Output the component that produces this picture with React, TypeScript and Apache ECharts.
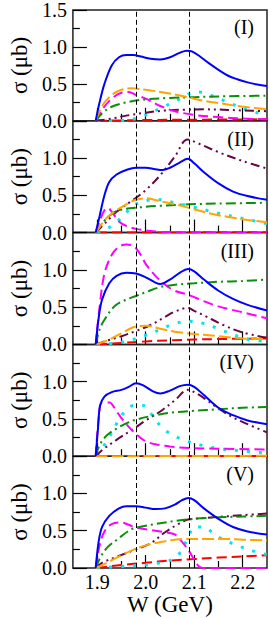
import React, { useEffect, useRef } from "react";
import * as echarts from "echarts";

// ---------- axis / annotation values ----------
const W_MIN = 1.85;
const W_MAX = 2.25;
const SIGMA_MAX = 1.5;
const xMajorTicks = [1.9, 2.0, 2.1, 2.2];
const xMinorTicks = [1.95, 2.05, 2.15];
const resonanceW = [1.98, 2.09];
const panelLabels = ["(I)", "(II)", "(III)", "(IV)", "(V)"];
const yAxisName = "σ (μb)";
const xAxisName = "W (GeV)";

// ---------- Panel I ----------
const p1Blue = [[1.897,0],[1.905,0.25],[1.915,0.5],[1.93,0.75],[1.945,0.86],[1.96,0.89],[1.975,0.89],[1.99,0.87],[2.01,0.84],[2.03,0.83],[2.05,0.86],[2.07,0.92],[2.085,0.95],[2.095,0.94],[2.11,0.88],[2.13,0.78],[2.15,0.69],[2.17,0.61],[2.19,0.56],[2.21,0.52],[2.23,0.49],[2.25,0.47]];
const p1Orange = [[1.897,0],[1.91,0.2],[1.93,0.35],[1.95,0.42],[1.97,0.44],[2.0,0.42],[2.04,0.38],[2.08,0.33],[2.12,0.27],[2.16,0.23],[2.2,0.19],[2.25,0.16]];
const p1Green = [[1.897,0],[1.91,0.1],[1.93,0.19],[1.96,0.25],[2.0,0.29],[2.05,0.31],[2.1,0.32],[2.15,0.33],[2.25,0.34]];
const p1Magenta = [[1.897,0],[1.91,0.15],[1.93,0.3],[1.95,0.38],[1.965,0.39],[1.98,0.35],[2.0,0.3],[2.03,0.2],[2.06,0.13],[2.1,0.08],[2.15,0.05],[2.2,0.03],[2.25,0.02]];
const p1Maroon = [[1.897,0],[1.93,0.03],[1.96,0.07],[2.0,0.11],[2.04,0.14],[2.08,0.15],[2.12,0.155],[2.16,0.15],[2.2,0.14],[2.25,0.13]];
const p1Cyan = [[1.9,0],[1.95,0.005],[1.98,0.03],[2.0,0.08],[2.03,0.17],[2.06,0.26],[2.08,0.33],[2.1,0.39],[2.12,0.38],[2.14,0.33],[2.17,0.25],[2.2,0.17],[2.25,0.07]];
const p1Red = [[1.9,0],[2.0,0.01],[2.1,0.015],[2.25,0.02]];

// ---------- Panel II ----------
const p2Blue = [[1.897,0],[1.905,0.22],[1.915,0.5],[1.925,0.68],[1.94,0.78],[1.96,0.84],[1.98,0.87],[2.0,0.87],[2.02,0.85],[2.035,0.84],[2.05,0.87],[2.07,0.94],[2.087,0.99],[2.1,0.93],[2.12,0.81],[2.15,0.66],[2.18,0.55],[2.21,0.49],[2.25,0.44]];
const p2Orange = [[1.897,0],[1.92,0.2],[1.94,0.3],[1.96,0.38],[1.98,0.44],[2.0,0.46],[2.03,0.42],[2.06,0.38],[2.09,0.33],[2.13,0.26],[2.17,0.21],[2.21,0.17],[2.25,0.14]];
const p2Green = [[1.897,0],[1.91,0.12],[1.926,0.23],[1.945,0.3],[1.99,0.34],[2.03,0.36],[2.09,0.38],[2.15,0.39],[2.25,0.4]];
const p2Magenta = [[1.897,0],[1.905,0.15],[1.915,0.3],[1.922,0.33],[1.93,0.28],[1.945,0.15],[1.96,0.09],[1.98,0.05],[2.0,0.03],[2.03,0.01],[2.1,0.005],[2.25,0]];
const p2Maroon = [[1.897,0],[1.92,0.15],[1.94,0.28],[1.97,0.42],[2.0,0.57],[2.03,0.77],[2.06,1.02],[2.086,1.25],[2.1,1.22],[2.15,1.08],[2.2,0.96],[2.25,0.86]];
const p2Cyan = [[1.9,0],[1.92,0.05],[1.94,0.14],[1.96,0.27],[1.98,0.38],[2.0,0.43],[2.03,0.44],[2.06,0.4],[2.1,0.34],[2.15,0.26],[2.2,0.19],[2.25,0.12]];
const p2Red = [[1.9,0],[2.25,0.005]];

// ---------- Panel III ----------
const p3Blue = [[1.897,0],[1.903,0.35],[1.91,0.6],[1.925,0.82],[1.94,0.92],[1.96,0.96],[1.98,0.95],[2.0,0.9],[2.02,0.83],[2.03,0.81],[2.05,0.87],[2.07,0.96],[2.087,1.01],[2.1,0.98],[2.12,0.87],[2.15,0.72],[2.18,0.61],[2.21,0.53],[2.25,0.455]];
const p3Orange = [[1.897,0],[1.92,0.05],[1.95,0.15],[1.98,0.24],[2.0,0.25],[2.03,0.21],[2.06,0.17],[2.1,0.14],[2.15,0.11],[2.2,0.08],[2.25,0.07]];
const p3Green = [[1.897,0],[1.905,0.2],[1.915,0.33],[1.937,0.52],[1.96,0.6],[1.98,0.65],[2.0,0.7],[2.03,0.77],[2.06,0.8],[2.1,0.82],[2.15,0.84],[2.2,0.85],[2.25,0.87]];
const p3Magenta = [[1.897,0],[1.905,0.5],[1.915,0.95],[1.93,1.2],[1.945,1.31],[1.96,1.34],[1.975,1.32],[1.99,1.2],[2.0,1.08],[2.02,0.92],[2.04,0.8],[2.06,0.72],[2.09,0.66],[2.12,0.58],[2.15,0.51],[2.2,0.43],[2.25,0.35]];
const p3Maroon = [[1.897,0],[1.92,0.05],[1.95,0.11],[1.98,0.18],[2.01,0.26],[2.04,0.37],[2.06,0.44],[2.087,0.49],[2.1,0.45],[2.12,0.39],[2.16,0.26],[2.2,0.16],[2.25,0.09]];
const p3Cyan = [[1.9,0],[1.94,0.02],[1.97,0.06],[2.0,0.12],[2.03,0.2],[2.06,0.28],[2.09,0.31],[2.12,0.28],[2.15,0.21],[2.18,0.13],[2.21,0.07],[2.25,0.04]];
const p3Red = [[1.9,0],[1.95,0.02],[2.0,0.04],[2.05,0.055],[2.1,0.065],[2.15,0.072],[2.25,0.08]];

// ---------- Panel IV ----------
const p4Blue = [[1.897,0],[1.902,0.4],[1.906,0.68],[1.915,0.8],[1.93,0.86],[1.95,0.89],[1.965,0.93],[1.98,0.98],[1.995,0.95],[2.015,0.87],[2.03,0.84],[2.05,0.88],[2.07,0.94],[2.087,0.96],[2.1,0.93],[2.12,0.82],[2.15,0.65],[2.18,0.55],[2.21,0.48],[2.25,0.43]];
const p4Orange = [[1.897,0],[2.25,0.005]];
const p4Green = [[1.897,0],[1.905,0.15],[1.92,0.28],[1.94,0.37],[1.96,0.44],[1.98,0.49],[2.02,0.55],[2.06,0.59],[2.1,0.61],[2.15,0.63],[2.2,0.65],[2.25,0.66]];
const p4Magenta = [[1.897,0],[1.903,0.5],[1.91,0.72],[1.925,0.72],[1.94,0.6],[1.955,0.47],[1.97,0.36],[1.985,0.27],[2.0,0.2],[2.02,0.16],[2.05,0.13],[2.09,0.11],[2.15,0.1],[2.25,0.09]];
const p4Maroon = [[1.897,0],[1.91,0.08],[1.94,0.22],[1.978,0.38],[2.0,0.48],[2.03,0.6],[2.06,0.75],[2.087,0.89],[2.1,0.86],[2.12,0.78],[2.15,0.64],[2.18,0.52],[2.21,0.43],[2.25,0.32]];
const p4Cyan = [[1.9,0],[1.91,0.1],[1.926,0.27],[1.945,0.49],[1.96,0.62],[1.975,0.68],[1.995,0.68],[2.01,0.58],[2.026,0.44],[2.046,0.32],[2.07,0.24],[2.09,0.19],[2.12,0.14],[2.15,0.1],[2.2,0.07],[2.25,0.04]];
const p4Red = [[1.9,0],[2.25,0]];

// ---------- Panel V ----------
const p5Blue = [[1.897,0],[1.903,0.35],[1.91,0.55],[1.925,0.7],[1.945,0.8],[1.96,0.83],[1.98,0.83],[2.0,0.81],[2.02,0.79],[2.04,0.8],[2.06,0.85],[2.075,0.91],[2.088,0.94],[2.1,0.91],[2.12,0.8],[2.15,0.66],[2.18,0.55],[2.21,0.49],[2.25,0.45]];
const p5Orange = [[1.897,0],[1.92,0.07],[1.95,0.17],[1.98,0.26],[2.01,0.32],[2.04,0.36],[2.08,0.39],[2.12,0.39],[2.16,0.39],[2.2,0.38],[2.25,0.37]];
const p5Green = [[1.897,0],[1.905,0.12],[1.92,0.27],[1.945,0.4],[1.965,0.5],[1.98,0.54],[2.02,0.59],[2.06,0.63],[2.1,0.66],[2.15,0.68],[2.2,0.69],[2.25,0.7]];
const p5Magenta = [[1.897,0],[1.905,0.3],[1.915,0.49],[1.93,0.59],[1.95,0.61],[1.965,0.58],[1.98,0.54],[2.0,0.52],[2.02,0.5],[2.04,0.48],[2.06,0.45],[2.075,0.35],[2.09,0.22],[2.1,0.11],[2.11,0.02],[2.12,0],[2.25,0]];
const p5Maroon = [[1.897,0],[1.91,0.07],[1.94,0.15],[1.98,0.25],[2.01,0.33],[2.04,0.48],[2.07,0.6],[2.087,0.65],[2.12,0.67],[2.16,0.69],[2.2,0.71],[2.25,0.73]];
const p5Cyan = [[1.9,0],[1.95,0.02],[2.0,0.04],[2.03,0.07],[2.06,0.13],[2.075,0.25],[2.09,0.45],[2.1,0.55],[2.12,0.55],[2.14,0.46],[2.16,0.38],[2.19,0.3],[2.22,0.23],[2.25,0.18]];
const p5Red = [[1.9,0],[1.95,0.04],[2.0,0.07],[2.05,0.1],[2.1,0.12],[2.15,0.14],[2.2,0.155],[2.25,0.17]];

const panels = [
  { red: p1Red, cyan: p1Cyan, maroon: p1Maroon, magenta: p1Magenta, green: p1Green, orange: p1Orange, blue: p1Blue },
  { red: p2Red, cyan: p2Cyan, maroon: p2Maroon, magenta: p2Magenta, green: p2Green, orange: p2Orange, blue: p2Blue },
  { red: p3Red, cyan: p3Cyan, maroon: p3Maroon, magenta: p3Magenta, green: p3Green, orange: p3Orange, blue: p3Blue },
  { red: p4Red, cyan: p4Cyan, maroon: p4Maroon, magenta: p4Magenta, green: p4Green, orange: p4Orange, blue: p4Blue },
  { red: p5Red, cyan: p5Cyan, maroon: p5Maroon, magenta: p5Magenta, green: p5Green, orange: p5Orange, blue: p5Blue },
];

const seriesStyles: Record<string, any> = {
  red: { color: "#ff0000", type: [10, 5], width: 2 },
  cyan: { color: "#00e5f0", type: [3, 9], width: 3 },
  maroon: { color: "#670748", type: [9, 4, 2, 4, 2, 4], width: 2 },
  magenta: { color: "#ff00ff", type: [10, 5], width: 2 },
  green: { color: "#0a8f0a", type: [10, 4, 2, 4], width: 2 },
  orange: { color: "#ffa500", type: [12, 4], width: 2 },
  blue: { color: "#0000ff", type: "solid", width: 2 },
};
const seriesOrder = ["red", "cyan", "maroon", "magenta", "green", "orange", "blue"];

const FONT = "Liberation Serif";

export default function App() {
  const ref = useRef<HTMLDivElement>(null);
  useEffect(() => {
    if (!ref.current) return;
    const chart = echarts.init(ref.current, undefined, { renderer: "svg" });
    const top0 = 9;
    const h = 111.8;
    const left = 61;
    const right = 3;
    const grids: any[] = [];
    const xAxes: any[] = [];
    const yAxes: any[] = [];
    const series: any[] = [];
    const graphics: any[] = [];
    panels.forEach((p, i) => {
      const top = top0 + i * h;
      const last = i === panels.length - 1;
      grids.push({ left, right, top, height: h, show: true, borderColor: "#222", borderWidth: 1.5, backgroundColor: "transparent" });
      xAxes.push({
        type: "value", gridIndex: i, min: W_MIN, max: W_MAX, position: "bottom",
        axisLine: { show: false },
        axisTick: { show: true, inside: true, length: 13, customValues: xMajorTicks, lineStyle: { color: "#000", width: 1.2 } },
        axisLabel: { show: last, customValues: xMajorTicks, formatter: (v: number) => v.toFixed(1), color: "#000", fontFamily: FONT, fontSize: 20, margin: 4 },
        splitLine: { show: false },
        name: last ? xAxisName : "", nameLocation: "middle", nameGap: 24,
        nameTextStyle: { color: "#000", fontFamily: FONT, fontSize: 23 },
      });
      xAxes.push({
        type: "value", gridIndex: i, min: W_MIN, max: W_MAX, position: "bottom",
        axisLine: { show: false },
        axisTick: { show: true, inside: true, length: 7, customValues: xMinorTicks, lineStyle: { color: "#000", width: 1.2 } },
        axisLabel: { show: false },
        splitLine: { show: false },
      });
      yAxes.push({
        type: "value", gridIndex: i, min: 0, max: SIGMA_MAX, interval: 0.5,
        axisLine: { show: false },
        axisTick: { show: true, inside: true, length: 14, lineStyle: { color: "#000", width: 1.2 } },
        minorTick: { show: true, splitNumber: 2, length: 7, lineStyle: { color: "#000", width: 1.2 } },
        axisLabel: {
          color: "#000", fontFamily: FONT, fontSize: 20, margin: 6,
          formatter: (v: number) => (i > 0 && v >= SIGMA_MAX ? "" : v.toFixed(1)),
        },
        splitLine: { show: false },
        name: yAxisName, nameLocation: "middle", nameGap: 36,
        nameTextStyle: { color: "#000", fontFamily: FONT, fontSize: 23 },
      });
      seriesOrder.forEach((key) => {
        const st = seriesStyles[key];
        const s: any = {
          type: "line", xAxisIndex: i * 2, yAxisIndex: i,
          data: (p as any)[key], showSymbol: false, smooth: 0.35, clip: true,
          lineStyle: { color: st.color, type: st.type, width: st.width, cap: "butt" },
          z: key === "blue" ? 5 : 3,
        };
        if (key === "red") {
          s.markLine = {
            silent: true, symbol: "none", label: { show: false },
            lineStyle: { color: "#000", type: [5, 3], width: 1 },
            data: resonanceW.map((w) => ({ xAxis: w })),
          };
        }
        series.push(s);
      });
      graphics.push({
        type: "text", right: 270 - 254, top: top + 8,
        style: { text: panelLabels[i], font: `20px "${FONT}"`, fill: "#000" },
      });
    });
    chart.setOption({
      animation: false,
      backgroundColor: "#fff",
      grid: grids,
      xAxis: xAxes,
      yAxis: yAxes,
      series,
      graphic: graphics,
    });
    return () => chart.dispose();
  }, []);
  return <div ref={ref} style={{ width: 270, height: 618, position: "absolute", left: 0, top: 0 }} />;
}
